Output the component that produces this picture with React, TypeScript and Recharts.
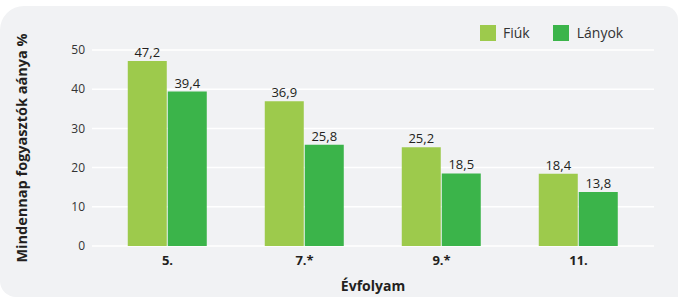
import { Bar, BarChart, CartesianGrid, Label, LabelList, XAxis, YAxis } from "recharts";

const grades = ["5.", "7.*", "9.*", "11."];
const boys = [47.2, 36.9, 25.2, 18.4];
const girls = [39.4, 25.8, 18.5, 13.8];
const yTicks = [0, 10, 20, 30, 40, 50];

const data = grades.map((g, i) => ({ name: g, fiuk: boys[i], lanyok: girls[i] }));

const FONT = "'Open Sans', 'Noto Sans', sans-serif";
const LIGHT = "#9dca4c";
const DARK = "#3bb44a";

const fmt = (v: any) => String(v).replace(".", ",");

export default function App() {
  return (
    <div style={{ position: "absolute", left: 0, top: 0, width: 678, height: 299, fontFamily: FONT }}>
      <div
        style={{
          position: "absolute",
          left: 0,
          top: 6,
          width: 678,
          height: 291,
          background: "#f1f2f4",
          borderRadius: "24px 14px 0 16px",
        }}
      >
        <div style={{ position: "absolute", left: 480, top: 17, display: "flex", alignItems: "center", fontSize: 14, color: "#333" }}>
          <span style={{ width: 16, height: 16, background: LIGHT, display: "inline-block", marginRight: 7 }} />
          <span style={{ marginRight: 23 }}>Fiúk</span>
          <span style={{ width: 16, height: 16, background: DARK, display: "inline-block", marginRight: 8 }} />
          <span>Lányok</span>
        </div>
        <BarChart
          width={678}
          height={291}
          data={data}
          margin={{ top: 44, right: 24, bottom: 0, left: 0 }}
          barGap={1}
          barCategoryGap="21%"
        >
          <CartesianGrid horizontal vertical={false} stroke="#ffffff" strokeWidth={1.5} />
          <XAxis
            dataKey="name"
            axisLine={false}
            tickLine={false}
            tickSize={0}
            tickMargin={10}
            height={51}
            padding={{ left: 7, right: 7 }}
            tick={{ fontSize: 13, fontWeight: 700, fill: "#231f20", fontFamily: FONT }}
          >
            <Label value="Évfolyam" position="insideBottom" offset={6} style={{ fontSize: 14, fontWeight: 700, fill: "#231f20", fontFamily: FONT }} />
          </XAxis>
          <YAxis
            domain={[0, 50]}
            ticks={yTicks}
            width={92}
            axisLine={false}
            tickLine={false}
            tickSize={0}
            tickMargin={7}
            tick={{ fontSize: 12, fill: "#333", fontFamily: FONT }}
          >
            <Label
              value="Mindennap fogyasztók aánya %"
              angle={-90}
              position="center"
              dx={-24}
              style={{ fontSize: 14.5, fontWeight: 700, fill: "#231f20", fontFamily: FONT }}
            />
          </YAxis>
          <Bar dataKey="fiuk" name="Fiúk" fill={LIGHT} isAnimationActive={false}>
            <LabelList dataKey="fiuk" position="top" offset={4} formatter={fmt} style={{ fontSize: 13, fill: "#231f20", fontFamily: FONT }} />
          </Bar>
          <Bar dataKey="lanyok" name="Lányok" fill={DARK} isAnimationActive={false}>
            <LabelList dataKey="lanyok" position="top" offset={4} formatter={fmt} style={{ fontSize: 13, fill: "#231f20", fontFamily: FONT }} />
          </Bar>
        </BarChart>
      </div>
    </div>
  );
}
